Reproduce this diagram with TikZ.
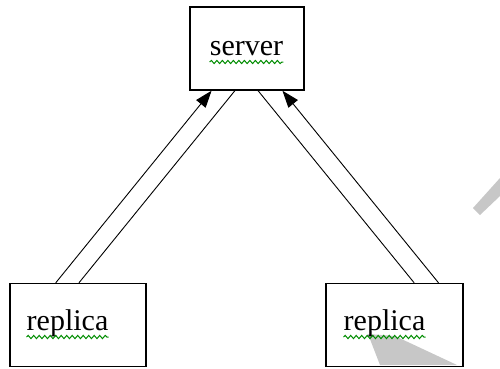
\documentclass[tikz,border=0pt]{standalone}
\usepackage{fontspec}
\setmainfont{Liberation Serif}
\usetikzlibrary{arrows.meta,calc,decorations.pathmorphing}
\begin{document}
\begin{tikzpicture}[x=1pt,y=-1pt,
  box/.style={draw=black,line width=1.4pt,fill=none,inner sep=0pt},
  lbl/.style={font=\fontsize{30}{32}\selectfont,inner sep=0pt,anchor=base},
  wavy/.style={draw=green!55!black,line width=1pt,decorate,decoration={snake,amplitude=1.6pt,segment length=5.5pt}},
  link/.style={draw=black,line width=0.9pt},
  arr/.style={link,-{Triangle[length=17pt,width=12pt]}}]
\useasboundingbox (0,0) rectangle (500,368);
% watermark
\fill[black!22] (368,334) -- (395,336) -- (457,365) -- (380,365) -- cycle;
\fill[black!22] (473,208) -- (480,215) -- (500,196) -- (500,178) -- cycle;
% boxes
\node[box,minimum width=114pt,minimum height=83pt] (server) at (247,48.5) {};
\node[box,minimum width=136pt,minimum height=83pt] (repL) at (78,325) {};
\node[box,minimum width=137pt,minimum height=83pt] (repR) at (394.5,325) {};
% labels
\node[lbl] (tS) at (246.5,55) {server};
\node[lbl] (tL) at (67.5,330) {replica};
\node[lbl] (tR) at (384.5,330) {replica};
\draw[wavy] (tS.base west) ++(0,7) coordinate (uS1) -- ($(tS.base east)+(0,7)$) coordinate (uS2);
\draw[wavy] (tL.base west) ++(0,7) coordinate (uL1) -- ($(tL.base east)+(0,7)$) coordinate (uL2);
\draw[wavy] (tR.base west) ++(0,7) coordinate (uR1) -- ($(tR.base east)+(0,7)$) coordinate (uR2);
% connector end points
\coordinate (s1) at ($(server.south west)!0.193!(server.south east)$);
\coordinate (s2) at ($(server.south west)!0.395!(server.south east)$);
\coordinate (s3) at ($(server.south west)!0.596!(server.south east)$);
\coordinate (s4) at ($(server.south west)!0.807!(server.south east)$);
\coordinate (l1) at ($(repL.north west)!0.338!(repL.north east)$);
\coordinate (l2) at ($(repL.north west)!0.507!(repL.north east)$);
\coordinate (r1) at ($(repR.north west)!0.642!(repR.north east)$);
\coordinate (r2) at ($(repR.north west)!0.818!(repR.north east)$);
% connectors
\draw[arr] (l1) -- (s1);
\draw[link] (s2) -- (l2);
\draw[link] (s3) -- (r1);
\draw[arr] (r2) -- (s4);
\end{tikzpicture}
\end{document}
